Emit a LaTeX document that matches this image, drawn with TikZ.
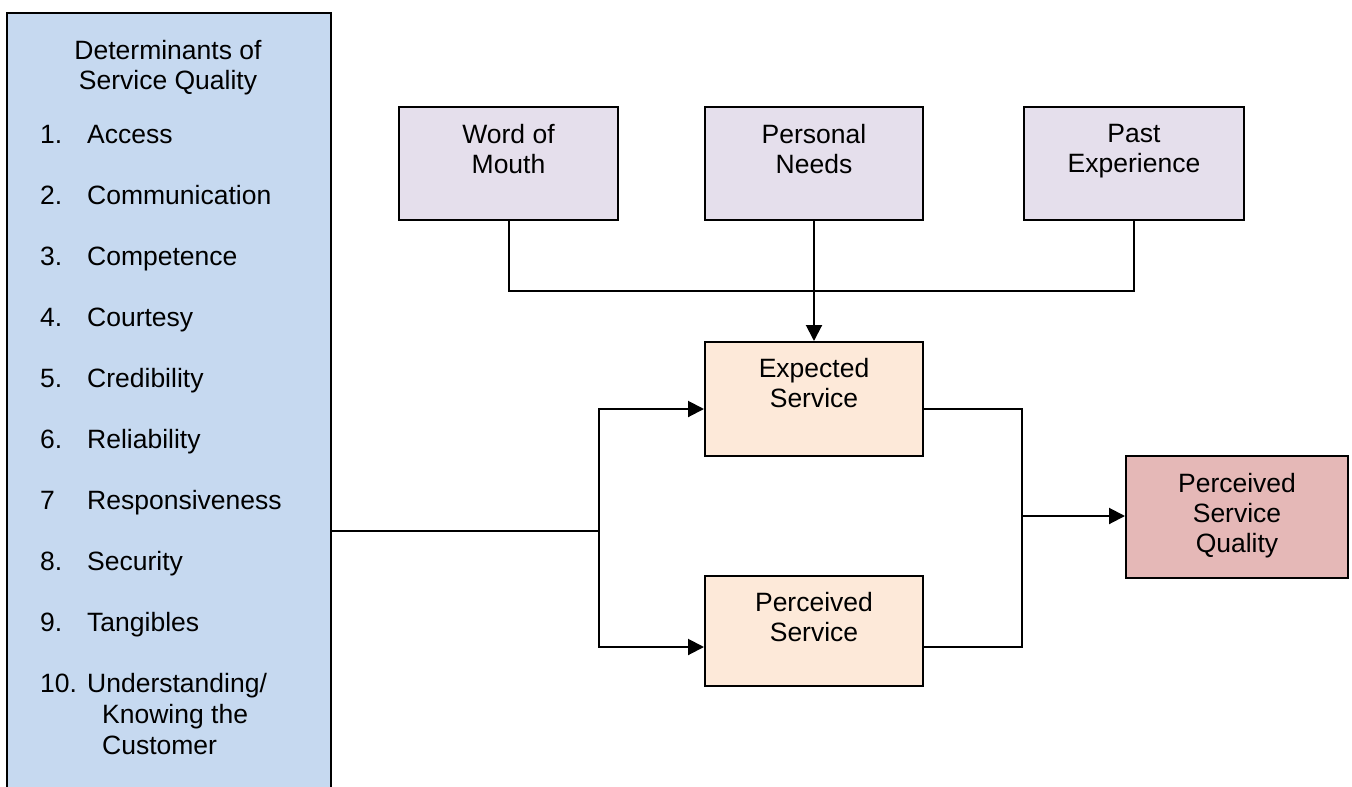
\documentclass[tikz,border=0pt]{standalone}
\usepackage{fontspec}
\setmainfont{Liberation Sans}
\usetikzlibrary{arrows.meta,calc}

\definecolor{detfill}{HTML}{C6D9F0}
\definecolor{srcfill}{HTML}{E5DFEC}
\definecolor{svcfill}{HTML}{FDE9D9}
\definecolor{qualfill}{HTML}{E5B8B7}

\tikzset{
  box/.style={draw=black, line width=2pt, inner sep=0pt, anchor=north west},
  txt/.style={font=\fontsize{26.5}{30}\selectfont, inner sep=0pt, align=center, anchor=north},
  item/.style={font=\fontsize{26.5}{30}\selectfont, inner sep=0pt, anchor=base west},
  conn/.style={line width=2pt},
  arr/.style={conn, -{Triangle[length=16pt,width=16pt]}}
}

\begin{document}
\begin{tikzpicture}[x=1pt,y=-1pt]
\useasboundingbox (0,0) rectangle (1352,787);
\clip (0,0) rectangle (1352,787);

% determinants panel (runs past the lower edge)
\node[box, fill=detfill, minimum width=324pt, minimum height=800pt] (det) at (6,12) {};
\node[txt] (dett) at (168,40) {Determinants of\\Service Quality};
\foreach \k/\num/\lbl [count=\i from 0] in
  {1/1./Access, 2/2./Communication, 3/3./Competence, 4/4./Courtesy,
   5/5./Credibility, 6/6./Reliability, 7/7/Responsiveness, 8/8./Security,
   9/9./Tangibles, 10/10./{Understanding/}}{
  \node[item] (n\k) at (40,143+61*\i) {\num};
  \node[item] (i\k) at (87,143+61*\i) {\lbl};
}
\node[item] (i10b) at (102,723) {Knowing the};
\node[item] (i10c) at (102,754) {Customer};

% expectation sources
\node[box, fill=srcfill, minimum width=219pt, minimum height=113pt] (wom) at (398,106) {};
\node[txt] (womt) at ([yshift=-18.5pt]wom.north) {Word of\\Mouth};
\node[box, fill=srcfill, minimum width=218pt, minimum height=113pt] (pn) at (704,106) {};
\node[txt] (pnt) at ([yshift=-18.5pt]pn.north) {Personal\\Needs};
\node[box, fill=srcfill, minimum width=220pt, minimum height=113pt] (pe) at (1023,106) {};
\node[txt] (pet) at ([yshift=-18.5pt]pe.north) {Past\\Experience};

% expected / perceived service
\node[box, fill=svcfill, minimum width=218pt, minimum height=114pt] (es) at (704,341) {};
\node[txt] (est) at ([yshift=-17.5pt]es.north) {Expected\\Service};
\node[box, fill=svcfill, minimum width=218pt, minimum height=110pt] (ps) at (704,575) {};
\node[txt] (pst) at ([yshift=-17.5pt]ps.north) {Perceived\\Service};

% outcome
\node[box, fill=qualfill, minimum width=222pt, minimum height=122pt] (psq) at (1125,455) {};
\node[txt] (psqt) at ([yshift=-18.5pt]psq.north) {Perceived\\Service\\Quality};

% routing points
\coordinate (merge) at (0,291);
\coordinate (split) at (599,531);
\coordinate (join) at (1022,516);
\coordinate (esin) at (0,409);
\coordinate (psin) at (0,647);

% sources feed expected service
\draw[conn] (wom.south) -- (wom.south |- merge) -- (pe.south |- merge) -- (pe.south);
\draw[arr] (pn.south) -- (es.north);

% determinants split to both services
\draw[conn] (det.east |- split) -- (split);
\draw[arr] (split) |- (es.west |- esin);
\draw[arr] (split) |- (ps.west |- psin);

% services combine into perceived quality
\draw[conn] (es.east |- esin) -| (join);
\draw[conn] (ps.east |- psin) -| (join);
\draw[arr] (join) -- (psq.west |- join);
\end{tikzpicture}
\end{document}
